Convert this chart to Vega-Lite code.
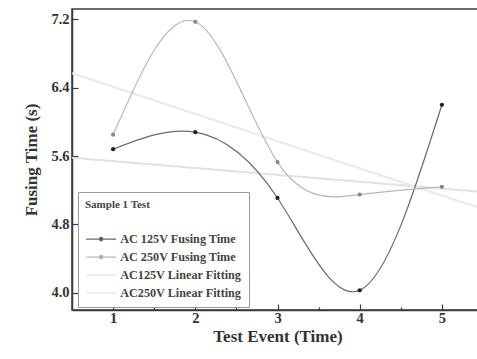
{
  "$schema": "https://vega.github.io/schema/vega-lite/v6.json",
  "width": 411,
  "height": 301,
  "autosize": "none",
  "padding": {"left": 72, "top": 9, "right": 0, "bottom": 49},
  "background": "white",
  "config": {
    "font": "Liberation Serif",
    "view": {"stroke": "#3a3a3a", "strokeWidth": 1.5},
    "axis": {
      "grid": false,
      "domainColor": "#3a3a3a",
      "domainWidth": 1.5,
      "tickColor": "#3a3a3a",
      "tickWidth": 1.2,
      "labelFont": "Liberation Serif",
      "labelFontWeight": "bold",
      "labelFontSize": 14.5,
      "labelColor": "#333",
      "titleFont": "Liberation Serif",
      "titleFontWeight": "bold",
      "titleFontSize": 17,
      "titleColor": "#333"
    },
    "legend": {
      "orient": "none",
      "legendX": 6,
      "legendY": 183,
      "fillColor": "white",
      "strokeColor": "#999",
      "padding": 7,
      "titleFont": "Liberation Serif",
      "titleFontSize": 11,
      "titleFontWeight": "bold",
      "titleColor": "#444",
      "titlePadding": 23,
      "labelFont": "Liberation Serif",
      "labelFontSize": 12.2,
      "labelFontWeight": "bold",
      "labelColor": "#444",
      "labelOffset": 23,
      "symbolSize": 100,
      "symbolStrokeWidth": 1.2,
      "rowPadding": 5
    }
  },
  "datasets": {
    "pts": [
      {"series": "AC 125V Fusing Time", "event": 1, "time": 5.68},
      {"series": "AC 125V Fusing Time", "event": 2, "time": 5.88},
      {"series": "AC 125V Fusing Time", "event": 3, "time": 5.11},
      {"series": "AC 125V Fusing Time", "event": 4, "time": 4.03},
      {"series": "AC 125V Fusing Time", "event": 5, "time": 6.2},
      {"series": "AC 250V Fusing Time", "event": 1, "time": 5.85},
      {"series": "AC 250V Fusing Time", "event": 2, "time": 7.17},
      {"series": "AC 250V Fusing Time", "event": 3, "time": 5.53},
      {"series": "AC 250V Fusing Time", "event": 4, "time": 5.15},
      {"series": "AC 250V Fusing Time", "event": 5, "time": 5.24}
    ],
    "fit": [
      {"series": "AC125V Linear Fitting", "event": 0.5, "time": 5.58},
      {"series": "AC125V Linear Fitting", "event": 5.5, "time": 5.18},
      {"series": "AC250V Linear Fitting", "event": 0.5, "time": 6.57},
      {"series": "AC250V Linear Fitting", "event": 5.5, "time": 4.98}
    ]
  },
  "layer": [
    {
      "data": {"name": "fit"},
      "mark": {"type": "line", "strokeWidth": 2, "clip": true},
      "encoding": {
        "x": {"field": "event", "type": "quantitative"},
        "y": {"field": "time", "type": "quantitative"},
        "color": {"field": "series", "type": "nominal"}
      }
    },
    {
      "data": {"name": "pts"},
      "mark": {"type": "line", "interpolate": "natural", "strokeWidth": 1.2, "clip": true},
      "encoding": {
        "x": {
          "field": "event",
          "type": "quantitative",
          "scale": {"domain": [0.5, 5.5], "nice": false, "zero": false},
          "axis": {
            "title": "Test Event (Time)",
            "values": [1, 1.5, 2, 2.5, 3, 3.5, 4, 4.5, 5],
            "labelExpr": "datum.value % 1 == 0 ? format(datum.value, 'd') : ''",
            "tickSize": {"condition": {"test": "datum.value % 1 != 0", "value": -3}, "value": -6},
            "labelPadding": 7,
            "titlePadding": 4
          }
        },
        "y": {
          "field": "time",
          "type": "quantitative",
          "scale": {"domain": [3.8, 7.32], "nice": false, "zero": false},
          "axis": {
            "title": "Fusing Time (s)",
            "values": [4.0, 4.4, 4.8, 5.2, 5.6, 6.0, 6.4, 6.8, 7.2],
            "labelExpr": "abs((datum.value - 4) / 0.8 - round((datum.value - 4) / 0.8)) < 0.01 ? format(datum.value, '.1f') : ''",
            "tickSize": {"condition": {"test": "abs((datum.value - 4) / 0.8 - round((datum.value - 4) / 0.8)) > 0.01", "value": -3}, "value": -6},
            "labelPadding": 9,
            "titlePadding": 10
          }
        },
        "color": {
          "field": "series",
          "type": "nominal",
          "scale": {
            "domain": ["AC 125V Fusing Time", "AC 250V Fusing Time", "AC125V Linear Fitting", "AC250V Linear Fitting"],
            "range": ["#6a6a6a", "#b8b8b8", "#e2e2e2", "#e9e9e9"]
          },
          "legend": {
            "title": "Sample 1 Test",
            "encode": {
              "symbols": {
                "update": {
                  "shape": {"signal": "indexof(['AC 125V Fusing Time', 'AC 250V Fusing Time'], datum.value) >= 0 ? 'M-1,0L5,0M2.35,0A0.35,0.35 0 1,1 1.65,0A0.35,0.35 0 1,1 2.35,0Z' : 'M-1,0L5,0'"},
                  "fill": {"signal": "datum.value == 'AC 125V Fusing Time' ? '#222' : datum.value == 'AC 250V Fusing Time' ? '#888' : 'transparent'"}
                }
              }
            }
          }
        }
      }
    },
    {
      "data": {"name": "pts"},
      "mark": {"type": "circle", "size": 18, "opacity": 1},
      "encoding": {
        "x": {"field": "event", "type": "quantitative"},
        "y": {"field": "time", "type": "quantitative"},
        "fill": {
          "field": "series",
          "type": "nominal",
          "scale": {"domain": ["AC 125V Fusing Time", "AC 250V Fusing Time"], "range": ["#222", "#888"]},
          "legend": null
        }
      }
    }
  ]
}
